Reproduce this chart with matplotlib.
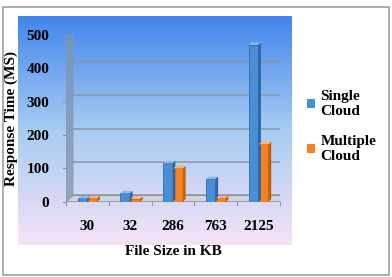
import numpy as np
import matplotlib.pyplot as plt
from matplotlib.patches import Rectangle, Polygon, Patch
from matplotlib.transforms import ScaledTranslation

# data
file_sizes = ["30", "32", "286", "763", "2125"]
single_cloud = [10, 25, 115, 68, 470]
multiple_cloud = [10, 8, 100, 10, 172]
y_ticks = [0, 100, 200, 300, 400, 500]

W, H = 392, 277
fig = plt.figure(figsize=(W / 100, H / 100), dpi=100)
plt.rcParams['font.family'] = ['Liberation Serif', 'DejaVu Serif']
fs = 11


def px_box(x0, y0, x1, y1):
    # pixel box (top-left origin) -> figure fraction rect
    return [x0 / W, 1 - y1 / H, (x1 - x0) / W, (y1 - y0) / H]


# outer border
fig.patches.append(Rectangle((3 / W, 2 / H), 386 / W, 268 / H, transform=fig.transFigure,
                             fill=False, edgecolor="#a0a0a0", lw=1.2))

# gradient background of the chart area
bg = fig.add_axes(px_box(18, 16, 292, 245))
top = np.array([66, 134, 236]) / 255
mid = np.array([168, 204, 243]) / 255
bot = np.array([246, 226, 246]) / 255
t = np.linspace(0, 1, 200)[:, None]
grad = np.where(t < 0.5, top + (mid - top) * (t / 0.5), mid + (bot - mid) * ((t - 0.5) / 0.5))
bg.imshow(grad[:, None, :].repeat(2, axis=1), aspect="auto", extent=[0, 1, 0, 1])
bg.set_axis_off()

# main plot axes (front plane)
ax = fig.add_axes(px_box(66, 35, 280, 201.7))
ax.patch.set_alpha(0)
n = len(file_sizes)
x = np.arange(n)
ax.set_xlim(-0.5, n - 0.5)
ax.set_ylim(0, 500)

# 3D depth offset, in points
dx, dy = 5.0, 4.5
off = np.array([dx, dy]) * fig.dpi / 72
back = ax.transData + ScaledTranslation(dx / 72, dy / 72, fig.dpi_scale_trans)
inv = ax.transData.inverted()

# back-wall gridlines
for v in y_ticks:
    ax.plot([-0.5, n - 0.5], [v, v], color="#8c96a6", lw=1.1, transform=back, zorder=1)

# left wall: strip between front and back y-axis
p0 = ax.transData.transform([(-0.5, 0), (-0.5, 500)])
pts = np.array([p0[0], p0[1], p0[1] + off, p0[0] + off])
ax.add_patch(Polygon(inv.transform(pts), closed=True, facecolor="#7f93b0", edgecolor="#8c96a6",
                     lw=0.8, alpha=0.75, zorder=1.5))
# floor
f0 = ax.transData.transform([(-0.5, 0), (n - 0.5, 0)])
fpts = np.array([f0[0], f0[1], f0[1] + off, f0[0] + off])
ax.add_patch(Polygon(inv.transform(fpts), closed=True, facecolor="#d2d4dc", edgecolor="#8c96a6",
                     lw=0.8, zorder=1.5))

# bars with simple 3D faces
bw = 0.22
bars_s = ax.bar(x - bw / 2 - 0.01, single_cloud, bw, color="#4a8fd6", edgecolor="#2f6cae",
                lw=0.6, zorder=3)
bars_m = ax.bar(x + bw / 2 + 0.01, multiple_cloud, bw, color="#f58220", edgecolor="#c8620f",
                lw=0.6, zorder=3)
bd = off * 0.4
for bars, side, topc in [(bars_s, "#2f66a6", "#8cbaea"), (bars_m, "#c0600e", "#f9b27a")]:
    for r in bars:
        x0, y0 = r.get_x(), r.get_y()
        x1, y1 = x0 + r.get_width(), y0 + r.get_height()
        a = ax.transData.transform([(x0, y1), (x1, y1), (x1, y0)])
        tp = np.array([a[0], a[1], a[1] + bd, a[0] + bd])
        sp = np.array([a[1], a[2], a[2] + bd, a[1] + bd])
        ax.add_patch(Polygon(inv.transform(tp), closed=True, facecolor=topc, lw=0, zorder=3))
        ax.add_patch(Polygon(inv.transform(sp), closed=True, facecolor=side, lw=0, zorder=3))

for s in ax.spines.values():
    s.set_visible(False)
ax.set_yticks(y_ticks)
ax.set_xticks(x)
ax.set_xticklabels(file_sizes)
ax.tick_params(axis="both", length=0, labelsize=fs)
ax.tick_params(axis="y", pad=12)
ax.tick_params(axis="x", pad=13)
for lab in ax.get_xticklabels() + ax.get_yticklabels():
    lab.set_fontweight("bold")
# front axis ticks at category boundaries
for b in np.arange(-0.5, n, 1.0):
    ax.plot([b, b], [0, -9], color="#8c96a6", lw=0.8, clip_on=False, zorder=2)
for v in y_ticks:
    ax.plot([-0.5 - 0.07, -0.5], [v, v], color="#8c96a6", lw=0.8, clip_on=False, zorder=2)

ax.set_xlabel("File Size in KB", fontsize=fs, fontweight="bold", labelpad=9)
ax.set_ylabel("Response Time (MS)", fontsize=fs, fontweight="bold", labelpad=6)

handles = [Patch(facecolor="#4a8fd6"), Patch(facecolor="#f58220")]
fig.legend(handles, ["Single\nCloud", "Multiple\nCloud"], loc="upper left",
           bbox_to_anchor=(293 / W, 1 - 76 / H), frameon=False, prop={"size": fs, "weight": "bold"},
           handlelength=0.55, handleheight=0.55, handletextpad=0.35, labelspacing=1.1)

fig.savefig("out.png", dpi=100)
